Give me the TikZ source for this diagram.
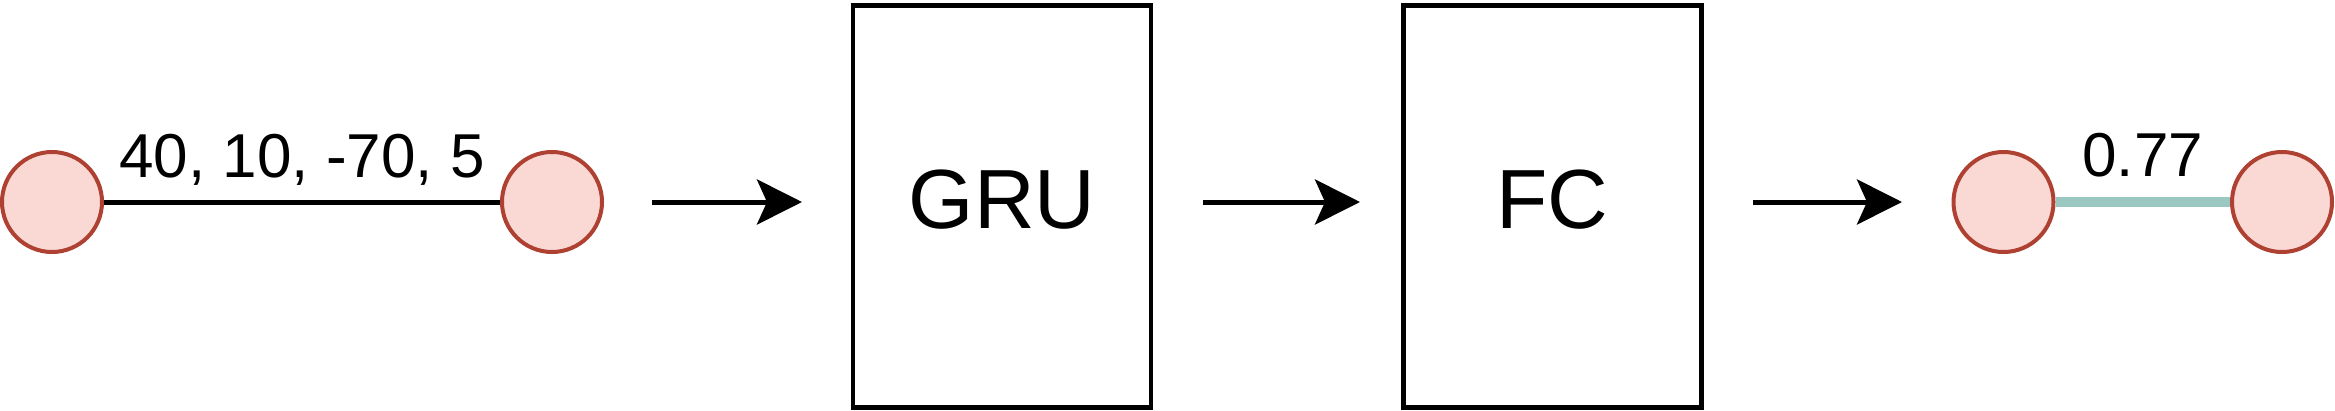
\documentclass[tikz,border=0pt]{standalone}
\usepackage{fontspec}
\setmainfont{Liberation Sans}
\usetikzlibrary{arrows.meta}
\definecolor{nodefill}{HTML}{FAD9D5}
\definecolor{nodeline}{HTML}{AE4132}
\definecolor{edgegreen}{HTML}{9AC7BF}
\begin{document}
\begin{tikzpicture}[x=1pt,y=-1pt,
  neuron/.style={circle, draw=nodeline, fill=nodefill, line width=4pt, minimum size=100pt, inner sep=0pt},
  layerbox/.style={rectangle, draw=black, line width=4.5pt, minimum width=298pt, minimum height=402pt, inner sep=0pt, font=\fontsize{84}{96}\selectfont, text height=60pt, text depth=16pt},
  flow/.style={line width=5pt, -{Stealth[length=45pt,width=45pt,inset=10pt]}},
  wlabel/.style={font=\fontsize{62}{72}\selectfont, anchor=base, inner sep=0pt},
]
\useasboundingbox (0,0) rectangle (2335,410);
\node[neuron] (c1) at (52,202) {};
\node[neuron] (c2) at (552,202) {};
\node[layerbox] (gru) at (1002,206.5) {GRU};
\node[layerbox] (fc) at (1552.5,206.5) {FC};
\node[neuron] (c3) at (2003.5,202) {};
\node[neuron] (c4) at (2282,202) {};
\draw[line width=5pt] (c1) -- node[wlabel, yshift=25pt]{40, 10, -70, 5} (c2);
\draw[line width=10pt, draw=edgegreen] (c3) -- node[wlabel, yshift=26pt]{0.77} (c4);
\draw[flow, shorten <=48pt, shorten >=48.75pt] (c2.east) -- (c2.east -| gru.west);
\draw[flow, shorten <=49.75pt, shorten >=41.25pt] (gru.east |- c2.east) -- (fc.west |- c2.east);
\draw[flow, shorten <=49.25pt, shorten >=49.5pt] (fc.east |- c3.west) -- (c3.west);
\end{tikzpicture}
\end{document}
